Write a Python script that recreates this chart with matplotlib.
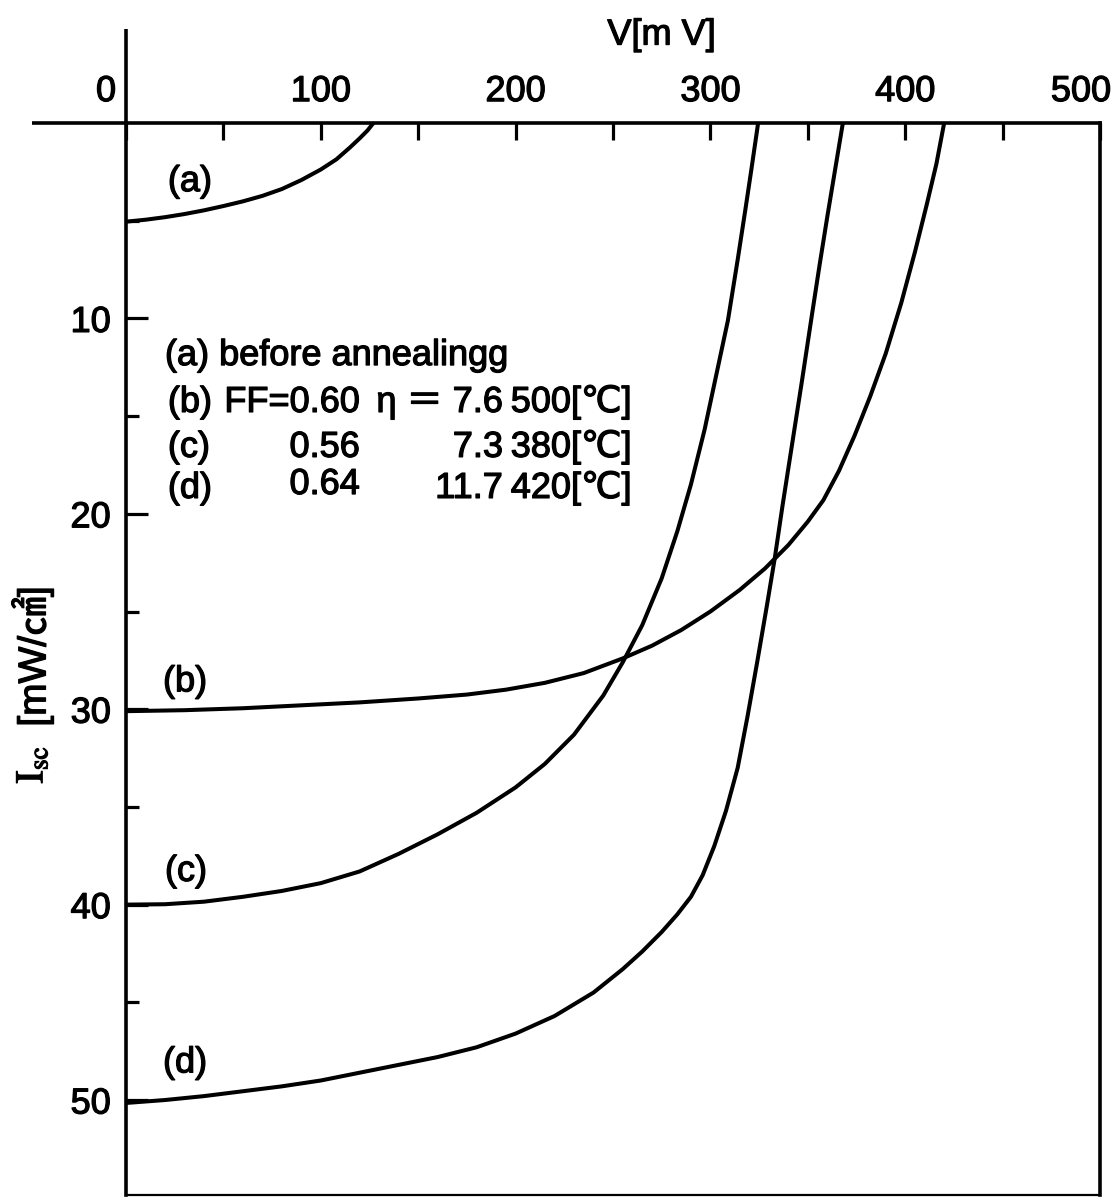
import numpy as np
import matplotlib
matplotlib.use("Agg")
import matplotlib.pyplot as plt
import matplotlib.patheffects as pe
from matplotlib.transforms import ScaledTranslation

plt.rcParams['font.family'] = ['Liberation Sans', 'DejaVu Sans', 'Noto Sans CJK JP']
plt.rcParams['mathtext.fontset'] = 'stix'

# ---- data ----
a_v = [0, 10, 20, 30, 40, 50, 60, 70, 80, 90, 100, 108, 115, 120, 124, 127]
a_i = [5.05, 4.95, 4.82, 4.66, 4.47, 4.25, 4.01, 3.73, 3.38, 2.92, 2.38, 1.86, 1.25, 0.78, 0.38, 0]

b_v = [0, 30, 60, 90, 120, 150, 175, 195, 215, 235, 255, 270, 285, 300, 315, 328,
       340, 350, 358, 366, 374, 382, 390, 398, 405, 411, 416, 420]
b_i = [30.1, 30.05, 29.95, 29.8, 29.65, 29.45, 29.25, 29.0, 28.65, 28.15, 27.4, 26.75,
       25.95, 25.0, 23.9, 22.8, 21.6, 20.4, 19.3, 17.8, 16.0, 14.0, 11.8, 9.2, 6.6, 4.2, 2.1, 0]

c_v = [0, 20, 40, 60, 80, 100, 120, 140, 160, 180, 200, 215, 230, 245, 255, 265, 275,
       283, 290, 297, 303, 309, 314, 318, 321, 324.5]
c_i = [40.0, 39.98, 39.85, 39.6, 39.3, 38.9, 38.3, 37.4, 36.4, 35.3, 34.0, 32.8, 31.3,
       29.3, 27.6, 25.7, 23.3, 20.9, 18.5, 15.7, 12.9, 10.1, 7.0, 4.4, 2.4, 0]

d_v = [0, 20, 40, 60, 80, 100, 120, 140, 160, 180, 200, 220, 240, 255, 265, 275, 283,
       290, 296, 302, 308, 314, 319, 324, 329, 333, 337, 342, 347, 352, 356, 360, 364, 368]
d_i = [50.15, 50.0, 49.8, 49.55, 49.3, 49.0, 48.6, 48.2, 47.8, 47.3, 46.6, 45.7, 44.5,
       43.3, 42.4, 41.4, 40.5, 39.6, 38.5, 37.0, 35.2, 33.0, 30.4, 27.6, 24.7, 22.3,
       19.6, 16.4, 13.2, 9.9, 7.3, 4.8, 2.4, 0]

curve_names = ['(a)', '(b)', '(c)', '(d)']
x_major = [0, 100, 200, 300, 400, 500]
x_labels = ['0 ', '100', '200', '300', '400', '500']
x_minor = [50, 150, 250, 350, 450]
y_major = [10, 20, 30, 40, 50]
y_minor = [5, 15, 25, 35, 45]

legend_title = '(a) before annealingg'
row_names = ['(b)', '(c)', '(d)']
ff_texts = ['FF=0.60', '0.56', '0.64']
eta_texts = ['η ＝ 7.6', '7.3', '11.7']
temp_texts = ['500[℃]', '380[℃]', '420[℃]']

# ---- figure ----
W, H = 1113, 1197
fig = plt.figure(figsize=(W / 100, H / 100), dpi=100)
L, R, T, B = 126, 1100, 123, 1195
ax = fig.add_axes([L / W, 1 - B / H, (R - L) / W, (B - T) / H])
ax.set_xlim(0, 500)
ax.set_ylim(54.86, 0)

thick = [pe.withStroke(linewidth=0.9, foreground='black')]
fs = 26

lw = 2.9
for v, i in [(a_v, a_i), (b_v, b_i), (c_v, c_i), (d_v, d_i)]:
    ax.plot(v, i, color='black', lw=lw, solid_capstyle='round', solid_joinstyle='round')

for s in ['top', 'left', 'right']:
    ax.spines[s].set_linewidth(2.6)
ax.spines['bottom'].set_linewidth(1.6)

# x axis on top
ax.xaxis.tick_top()
ax.set_xticks(x_major)
ax.set_xticklabels(x_labels)
ax.set_xticks(x_minor, minor=True)
ax.tick_params(axis='x', which='both', direction='in', length=12, width=2.3,
               top=True, bottom=False, labeltop=True, labelbottom=False,
               pad=10, labelsize=fs)
ticks = ax.xaxis.get_major_ticks()
ticks[0].label2.set_horizontalalignment('right')
last = ticks[-1].label2
last.set_horizontalalignment('right')
last.set_transform(last.get_transform() + ScaledTranslation(0.11, 0, fig.dpi_scale_trans))

# y axis
ax.set_yticks(y_major)
ax.set_yticks(y_minor, minor=True)
ax.tick_params(axis='y', which='major', direction='in', length=16, width=2.3,
               left=True, right=False, pad=11, labelsize=fs)
ax.tick_params(axis='y', which='minor', direction='in', length=9, width=2.3,
               left=True, right=False)
for lab in ax.get_xticklabels() + ax.get_yticklabels():
    lab.set_path_effects(thick)

# axis extensions beyond the origin
ax.plot([-48, 0], [0, 0], color='black', lw=2.6, clip_on=False, solid_capstyle='butt')
ax.plot([0, 0], [-4.8, 0], color='black', lw=2.6, clip_on=False, solid_capstyle='butt')

# axis titles
ax.text(275, -4.5, 'V[m V]', fontsize=fs, ha='center', va='center', clip_on=False,
        path_effects=thick)
ax.text(-48, 32.85, r'$\mathrm{I}_{\mathrm{sc}}$', fontsize=fs + 2, rotation=90,
        ha='center', va='center', clip_on=False, path_effects=thick)
ax.text(-48, 27.3, '[mW/㎠]', fontsize=fs + 2, rotation=90,
        ha='center', va='center', clip_on=False, path_effects=thick)

# curve labels
label_pos = [(21.5, 3.0), (19, 28.6), (20, 38.3), (19, 48.1)]
for name, (x, y) in zip(curve_names, label_pos):
    ax.text(x, y, name, fontsize=fs, ha='left', va='center', path_effects=thick)

# annotation block
ax.text(20, 11.9, legend_title, fontsize=fs, ha='left', va='center', path_effects=thick)
row_y = [14.3, 16.6, 18.7]
for k in range(3):
    ax.text(21.5, row_y[k], row_names[k], fontsize=fs, ha='left', va='center', path_effects=thick)
    ax.text(120, row_y[k] - (0.2 if k == 2 else 0), ff_texts[k], fontsize=fs, ha='right',
            va='center', path_effects=thick)
    ax.text(193.5, row_y[k], eta_texts[k], fontsize=fs, ha='right', va='center', path_effects=thick)
    ax.text(197.5, row_y[k], temp_texts[k], fontsize=fs, ha='left', va='center', path_effects=thick)

fig.savefig('out.png', dpi=100)
